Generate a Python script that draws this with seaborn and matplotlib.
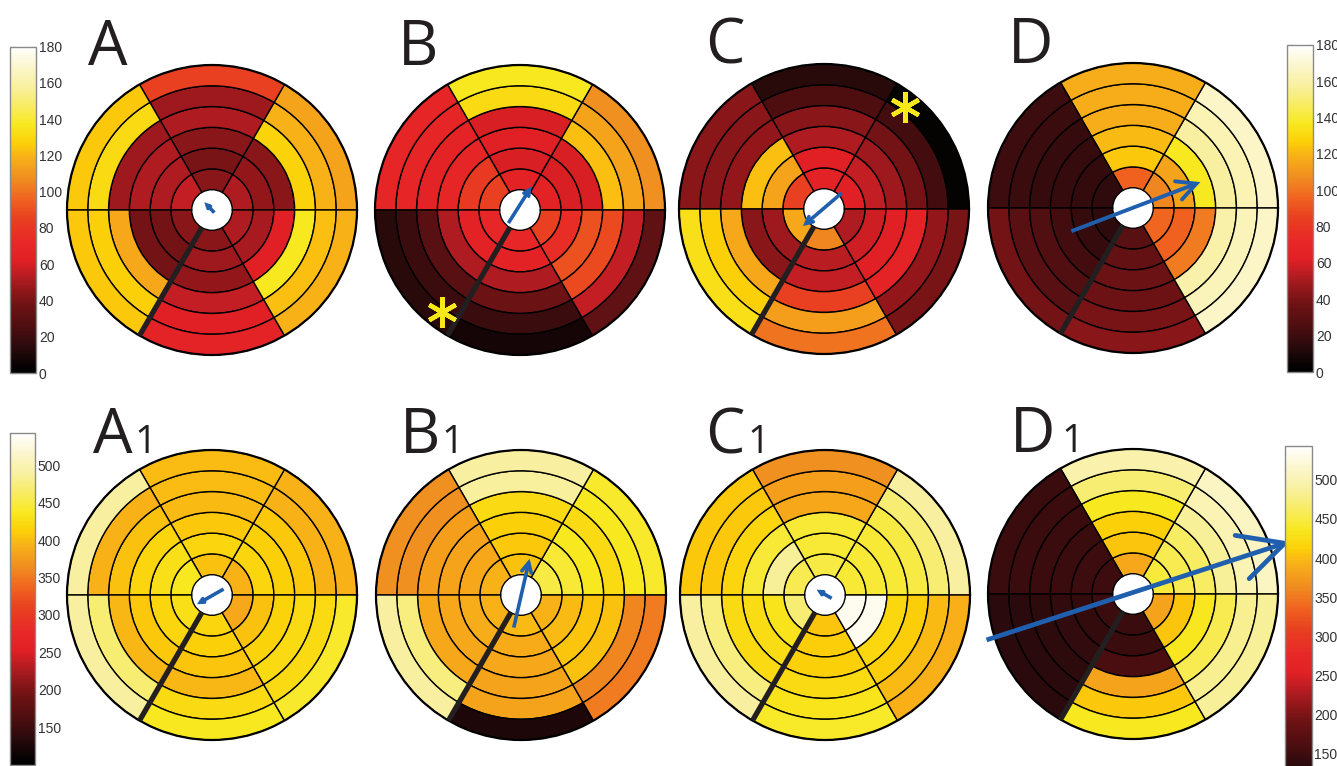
import numpy as np
import matplotlib
matplotlib.use("Agg")
import matplotlib.pyplot as plt
import seaborn as sns
from matplotlib.colors import LinearSegmentedColormap, Normalize
from matplotlib.cm import ScalarMappable

sns.set_theme(style="white")
plt.rcParams["font.family"] = ["Liberation Sans", "DejaVu Sans"]

# ---------------------------------------------------------------- data
panel_labels = ["A", "B", "C", "D", "A", "B", "C", "D"]
panel_subs = ["", "", "", "", "1", "1", "1", "1"]

# segment values: 6 sectors (0-60, 60-120, ... 300-360 deg), rings inner -> outer
vals_A = [[52, 46, 44, 128, 119, 114],
          [44, 40, 44, 52, 48, 85],
          [56, 52, 52, 48, 131, 125],
          [44, 38, 38, 116, 127, 125],
          [44, 48, 46, 56, 62, 66],
          [52, 50, 62, 137, 123, 119]]
vals_B = [[64, 60, 60, 123, 114, 108],
          [64, 60, 62, 60, 131, 137],
          [85, 82, 68, 66, 68, 68],
          [70, 64, 52, 30, 19, 14],
          [70, 64, 52, 36, 19, 8],
          [85, 75, 90, 88, 56, 32]]
vals_C = [[62, 56, 48, 38, 22, 3],
          [64, 62, 52, 44, 26, 14],
          [85, 114, 123, 46, 44, 44],
          [116, 48, 44, 116, 127, 133],
          [105, 54, 56, 85, 113, 100],
          [52, 58, 62, 66, 46, 40]]
vals_D = [[105, 114, 137, 158, 163, 168],
          [95, 125, 121, 118, 118, 118],
          [16, 17, 18, 18, 19, 20],
          [15, 18, 22, 27, 30, 38],
          [30, 34, 36, 37, 40, 44],
          [97, 95, 102, 160, 164, 168]]
vals_A1 = [[393, 417, 413, 408, 393, 393],
           [403, 417, 408, 398, 400, 400],
           [437, 428, 417, 403, 393, 489],
           [428, 417, 408, 396, 470, 489],
           [417, 413, 405, 396, 422, 437],
           [385, 403, 415, 422, 422, 442]]
vals_B1 = [[450, 445, 437, 422, 437, 442],
           [403, 408, 413, 422, 487, 489],
           [393, 385, 381, 378, 366, 366],
           [393, 390, 385, 385, 475, 489],
           [398, 388, 385, 382, 381, 126],
           [393, 398, 405, 403, 358, 351]]
vals_C1 = [[445, 445, 445, 450, 470, 489],
           [450, 445, 445, 385, 378, 366],
           [455, 485, 445, 417, 408, 408],
           [470, 433, 425, 422, 475, 489],
           [405, 410, 412, 422, 432, 440],
           [533, 533, 420, 410, 398, 392]]
vals_D1 = [[447, 455, 462, 485, 500, 510],
           [385, 405, 412, 437, 470, 495],
           [150, 150, 148, 148, 147, 147],
           [147, 142, 140, 138, 136, 135],
           [147, 147, 159, 381, 408, 437],
           [382, 405, 435, 455, 482, 485]]
panel_values = [vals_A, vals_B, vals_C, vals_D, vals_A1, vals_B1, vals_C1, vals_D1]

# vectors (tail -> head) in units of the outer radius
arrow_x0 = [0.016, -0.08, 0.122, -0.425, 0.08, -0.05, 0.046, -1.01]
arrow_y0 = [-0.018, -0.09, 0.11, -0.16, 0.041, -0.225, -0.023, -0.317]
arrow_x1 = [-0.034, 0.064, -0.124, 0.437, -0.08, 0.053, -0.034, 1.046]
arrow_y1 = [0.034, 0.138, -0.10, 0.168, -0.05, 0.223, 0.023, 0.35]

# marked segments (panel index, x, y)
star_panel = [1, 2]
star_x = [-0.54, 0.56]
star_y = [-0.70, 0.705]

septum_angle = 240.0

top_ticks = [0, 20, 40, 60, 80, 100, 120, 140, 160, 180]
bottom_ticks = [150, 200, 250, 300, 350, 400, 450, 500]
top_range = (0, 180)
bottom_range = (100, 543)

# ---------------------------------------------------------------- style
heat = LinearSegmentedColormap.from_list("heat", [
    (0.000, "#000000"), (0.017, "#050202"), (0.078, "#2a0a0c"),
    (0.133, "#4a0e10"), (0.200, "#6a1214"), (0.244, "#8a1618"),
    (0.289, "#b01c22"), (0.344, "#e02024"), (0.400, "#e82828"),
    (0.472, "#e84020"), (0.528, "#f06020"), (0.600, "#f09020"),
    (0.661, "#f8b018"), (0.706, "#fcd008"), (0.761, "#f8e820"),
    (0.817, "#f8ec60"), (0.878, "#f8f0a0"), (0.933, "#fbf5c8"),
    (1.000, "#ffffff")])

W, H = 1337, 766
fig = plt.figure(figsize=(W / 100, H / 100), dpi=100)
fig.patch.set_facecolor("white")

centers = [(212, 210), (520, 210), (824, 209), (1133, 208),
           (212, 595), (521, 595), (825, 595), (1133, 594)]
R = 145.0
r0 = 0.14
dr = (1 - r0) / 6
ink = "#231f20"
arrow_blue = "#1f5fae"
arrow_lw = [2.6, 2.6, 2.6, 2.8, 2.6, 2.6, 2.6, 3.4]
letter_x = [88, 398, 705, 1008, 93, 400, 705, 1010]
sub_x = [0, 0, 0, 0, 134, 441, 747, 1061]


def rect(cx, cy, rad):
    return [(cx - rad) / W, (H - cy - rad) / H, 2 * rad / W, 2 * rad / H]


theta = np.deg2rad(np.arange(6) * 60 + 30)
for i, vals in enumerate(panel_values):
    cx, cy = centers[i]
    rng = top_range if i < 4 else bottom_range
    norm = Normalize(*rng)
    ax = fig.add_axes(rect(cx, cy, R), projection="polar", label=f"p{i}")
    v = np.asarray(vals, dtype=float)
    for ring in range(6):
        ax.bar(theta, dr, width=np.deg2rad(60), bottom=r0 + ring * dr,
               color=heat(norm(v[:, ring])), edgecolor="black",
               linewidth=1.0, align="center")
    ax.plot([np.deg2rad(septum_angle)] * 2, [r0, 1.0], color=ink,
            lw=3.8, solid_capstyle="butt", zorder=5)
    ax.set_rlim(0, 1.0)
    ax.set_xticks([])
    ax.set_yticks([])
    ax.grid(False)
    ax.spines["polar"].set_linewidth(1.6)
    ax.spines["polar"].set_color("black")
    ax.set_facecolor("white")

    ov = fig.add_axes(rect(cx, cy, R), label=f"o{i}")
    ov.set_xlim(-1, 1)
    ov.set_ylim(-1, 1)
    ov.axis("off")
    ov.patch.set_alpha(0)
    x0, y0, x1, y1 = arrow_x0[i], arrow_y0[i], arrow_x1[i], arrow_y1[i]
    L = np.hypot(x1 - x0, y1 - y0)
    ang = np.arctan2(y1 - y0, x1 - x0)
    hl = max(0.16 * L, 0.025)
    spread = np.deg2rad(27)
    lx, ly = x1 - hl * np.cos(ang - spread), y1 - hl * np.sin(ang - spread)
    rx, ry = x1 - hl * np.cos(ang + spread), y1 - hl * np.sin(ang + spread)
    ov.plot([x0, x1], [y0, y1], color=arrow_blue, lw=arrow_lw[i],
            solid_capstyle="butt", clip_on=False, zorder=6)
    ov.plot([lx, x1, rx], [ly, y1, ry], color=arrow_blue, lw=arrow_lw[i],
            solid_joinstyle="miter", clip_on=False, zorder=6)
    for p, sx, sy in zip(star_panel, star_x, star_y):
        if p == i:
            ov.plot([sx], [sy], marker=(6, 2, 0), markersize=22, mew=3.2,
                    color="#f7e81a", clip_on=False, zorder=7)

    base_y = cy - R + (0 if i < 4 else 3)
    fig.text(letter_x[i] / W, 1 - base_y / H, panel_labels[i],
             fontsize=45, color=ink, family=["Open Sans", "DejaVu Sans"],
             ha="left", va="baseline")
    if panel_subs[i]:
        fig.text(sub_x[i] / W, 1 - base_y / H, panel_subs[i],
                 fontsize=28, color=ink, family=["Open Sans", "DejaVu Sans"],
                 ha="left", va="baseline")


def add_cbar(x, top, w, h, rng, ticks):
    cax = fig.add_axes([x / W, 1 - (top + h) / H, w / W, h / H])
    sm = ScalarMappable(norm=Normalize(*rng), cmap=heat)
    cb = fig.colorbar(sm, cax=cax)
    cb.set_ticks(ticks)
    cb.set_ticklabels([str(t) for t in ticks])
    cb.outline.set_edgecolor("#8a8a8a")
    cb.outline.set_linewidth(1.0)
    cax.tick_params(axis="y", direction="in", length=4, width=0.8,
                    color="#8a8a8a", left=True, right=True, labelsize=10,
                    labelcolor="#333333", pad=2)
    return cb


add_cbar(10, 46.5, 26, 326.5, top_range, top_ticks)
add_cbar(1287, 45, 26, 327, top_range, top_ticks)
add_cbar(9.5, 433, 25.5, 331.5, bottom_range, bottom_ticks)
add_cbar(1285, 446, 26.5, 347, bottom_range, bottom_ticks)

fig.savefig("out.png", dpi=100, facecolor="white")
